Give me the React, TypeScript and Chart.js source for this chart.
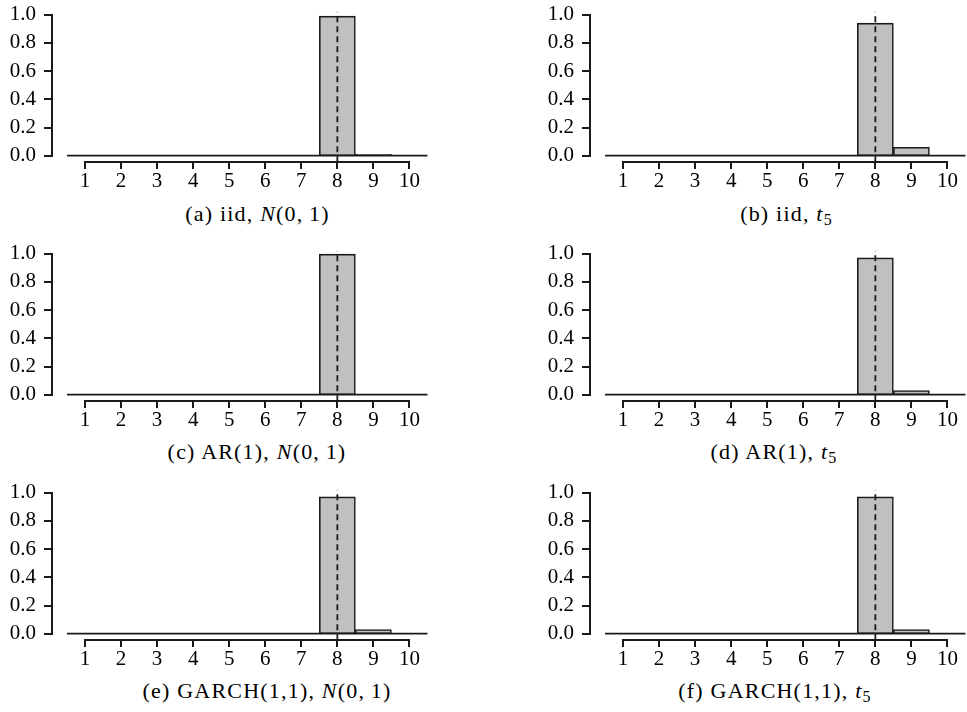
import React, { useEffect, useRef } from "react";
import { Chart, registerables } from "chart.js";

Chart.register(...registerables);

// ---- data ----
const ranks = [1, 2, 3, 4, 5, 6, 7, 8, 9, 10];
const yTicks = [0, 0.2, 0.4, 0.6, 0.8, 1.0];
const trueValue = 8;

const freqA = [0, 0, 0, 0, 0, 0, 0, 0.99, 0.01, 0];
const freqB = [0, 0, 0, 0, 0, 0, 0, 0.94, 0.06, 0];
const freqC = [0, 0, 0, 0, 0, 0, 0, 0.997, 0.003, 0];
const freqD = [0, 0, 0, 0, 0, 0, 0, 0.97, 0.03, 0];
const freqE = [0, 0, 0, 0, 0, 0, 0, 0.97, 0.03, 0];
const freqF = [0, 0, 0, 0, 0, 0, 0, 0.97, 0.03, 0];

const captionLetters = ["(a)", "(b)", "(c)", "(d)", "(e)", "(f)"];
const captionModels = ["iid", "iid", "AR(1)", "AR(1)", "GARCH(1,1)", "GARCH(1,1)"];
const captionDists = ["N", "t", "N", "t", "N", "t"];

// ---- layout ----
const FONT = "'Liberation Serif', 'Times New Roman', serif";
const INK = "#1a1a1a";
const COL_LEFT = [0, 538];
const CANVAS_W = [440, 429];
const ROW_TOP = [0, 238.8, 477.6];
const CANVAS_H = 195;
const AREA_TOP = 11.7;
const AREA_BOTTOM = 162.3;
const Y_AXIS_W = 52;
const PX_PER_UNIT = 36.05;
const X_MIN = 1 - (85 - Y_AXIS_W) / PX_PER_UNIT;
const Y_MIN = -0.0468;
const Y_MAX = 1.0213;
const CAPTION_CX = [257.5, 786.5, 257, 774, 267, 775];
const CAPTION_CY = 213.5;

const spinePlugin = {
  id: "spines",
  afterDraw(chart: any) {
    const { ctx, scales } = chart;
    const x = scales.x;
    const y = scales.y;
    ctx.save();
    ctx.fillStyle = INK;
    const lx = Math.round(chart.chartArea.left);
    const yTop = Math.round(y.getPixelForValue(yTicks[yTicks.length - 1]));
    const yBot = Math.round(y.getPixelForValue(yTicks[0]));
    // left spine, bounded to the tick range
    ctx.fillRect(lx - 1, yTop - 1, 2, yBot - yTop + 2);
    // left tick marks
    for (const v of yTicks) {
      const py = Math.round(y.getPixelForValue(v));
      ctx.fillRect(lx - 8, py - 1, 8, 2);
    }
    // bottom spine, bounded to the tick range
    const by = Math.round(chart.chartArea.bottom);
    const x0 = Math.round(x.getPixelForValue(ranks[0]));
    const x1 = Math.round(x.getPixelForValue(ranks[ranks.length - 1]));
    ctx.fillRect(x0 - 1, by - 1, x1 - x0 + 2, 2);
    // bottom tick marks
    for (const v of ranks) {
      const px = Math.round(x.getPixelForValue(v));
      ctx.fillRect(px - 1, by - 1, 2, 8);
    }
    ctx.restore();
  },
};

function Panel({ freq, col, row }: { freq: number[]; col: number; row: number }) {
  const ref = useRef<HTMLCanvasElement | null>(null);
  useEffect(() => {
    if (!ref.current) return;
    const w = CANVAS_W[col];
    const xMax = X_MIN + (w - Y_AXIS_W) / PX_PER_UNIT;
    const tickFont = { family: FONT, size: 21 };
    const chart = new Chart(ref.current, {
      type: "bar",
      data: {
        datasets: [
          {
            type: "line",
            data: [
              { x: trueValue, y: Y_MIN },
              { x: trueValue, y: Y_MAX },
            ],
            borderColor: INK,
            borderWidth: 1.8,
            borderDash: [6, 4],
            pointRadius: 0,
            order: 0,
          } as any,
          {
            type: "line",
            data: [
              { x: ranks[0] - 0.5, y: 0 },
              { x: ranks[ranks.length - 1] + 0.5, y: 0 },
            ],
            borderColor: INK,
            borderWidth: 1.8,
            pointRadius: 0,
            order: 1,
          } as any,
          {
            type: "bar",
            data: ranks.map((r, i) => ({ x: r, y: freq[i] })),
            backgroundColor: "#c0c0c0",
            borderColor: INK,
            borderWidth: 1.6,
            borderSkipped: false,
            barPercentage: 1,
            categoryPercentage: 1,
            order: 2,
          } as any,
        ],
      },
      options: {
        animation: false,
        responsive: false,
        devicePixelRatio: 1,
        layout: { padding: { top: AREA_TOP, left: 0, right: 0, bottom: 0 } },
        plugins: { legend: { display: false }, tooltip: { enabled: false }, title: { display: false } },
        scales: {
          x: {
            type: "linear",
            offset: false,
            min: X_MIN,
            max: xMax,
            afterBuildTicks: (s: any) => {
              s.ticks = ranks.map((v) => ({ value: v }));
            },
            afterFit: (s: any) => {
              s.height = CANVAS_H - AREA_BOTTOM;
              s.paddingLeft = 0;
              s.paddingRight = 0;
            },
            grid: { display: false, drawTicks: false },
            border: { display: false },
            ticks: {
              font: tickFont,
              color: "#000",
              padding: 7,
              maxRotation: 0,
              autoSkip: false,
              callback: (v: any) => String(v),
            },
          },
          y: {
            type: "linear",
            offset: false,
            min: Y_MIN,
            max: Y_MAX,
            afterBuildTicks: (s: any) => {
              s.ticks = yTicks.map((v) => ({ value: v }));
            },
            afterFit: (s: any) => {
              s.width = Y_AXIS_W;
              s.paddingTop = 0;
              s.paddingBottom = 0;
            },
            grid: { display: false, drawTicks: false },
            border: { display: false },
            ticks: {
              font: tickFont,
              color: "#000",
              padding: 16,
              callback: (v: any) => Number(v).toFixed(1),
            },
          },
        },
      },
      plugins: [spinePlugin],
    } as any);
    return () => chart.destroy();
  }, [freq, col]);
  return (
    <canvas
      ref={ref}
      width={CANVAS_W[col]}
      height={CANVAS_H}
      style={{
        position: "absolute",
        left: COL_LEFT[col],
        top: ROW_TOP[row],
        width: CANVAS_W[col],
        height: CANVAS_H,
      }}
    />
  );
}

function Caption({ idx, row }: { idx: number; row: number }) {
  const dist = captionDists[idx];
  return (
    <div
      style={{
        position: "absolute",
        left: CAPTION_CX[idx],
        top: CAPTION_CY + ROW_TOP[row] - 13,
        transform: "translateX(-50%)",
        whiteSpace: "nowrap",
        fontFamily: FONT,
        fontSize: 22,
        lineHeight: "26px",
        letterSpacing: "1.2px",
        color: "#000",
      }}
    >
      {captionLetters[idx]} {captionModels[idx]},{" "}
      {dist === "N" ? (
        <span>
          <i>N</i>(0,&thinsp;1)
        </span>
      ) : (
        <span>
          <i>t</i>
          <span style={{ fontSize: 16, position: "relative", top: 4 }}>5</span>
        </span>
      )}
    </div>
  );
}

const allFreqs = [freqA, freqB, freqC, freqD, freqE, freqF];

export default function App() {
  return (
    <div
      style={{
        position: "absolute",
        left: 0,
        top: 0,
        width: 967,
        height: 712,
        background: "#fff",
        overflow: "hidden",
      }}
    >
      {allFreqs.map((f, i) => {
        const row = Math.floor(i / 2);
        const col = i % 2;
        return (
          <React.Fragment key={i}>
            <Panel freq={f} col={col} row={row} />
            <Caption idx={i} row={row} />
          </React.Fragment>
        );
      })}
    </div>
  );
}
